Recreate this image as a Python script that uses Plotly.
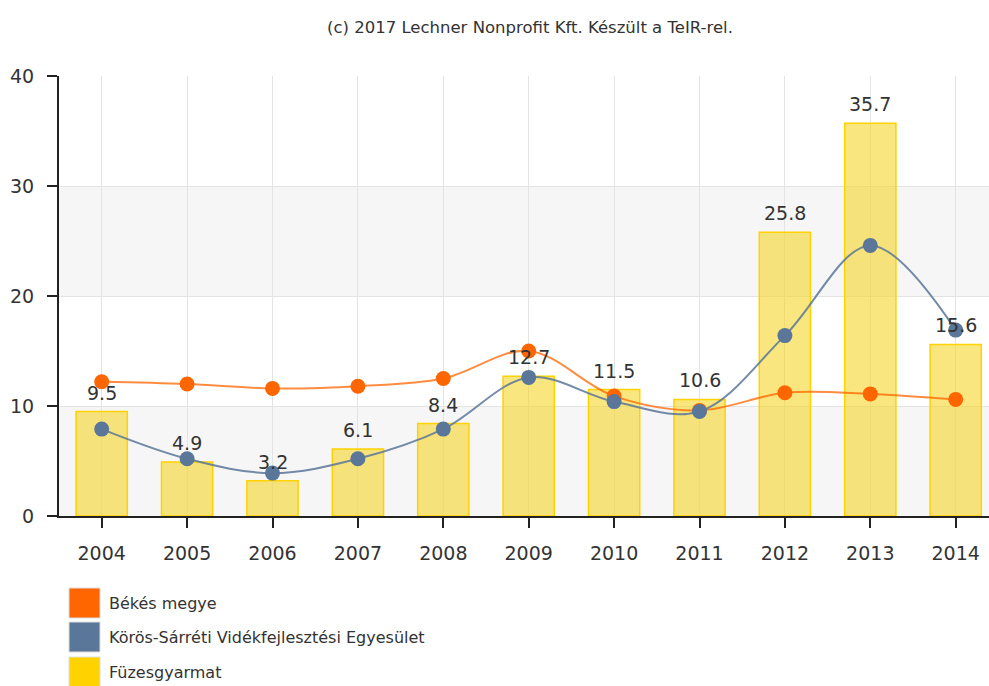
import plotly.graph_objects as go

# Years and series
years = ["2004", "2005", "2006", "2007", "2008", "2009", "2010", "2011", "2012", "2013", "2014"]
bekes = [12.2, 12.0, 11.6, 11.8, 12.5, 15.0, 10.9, 9.6, 11.2, 11.1, 10.6]
koros = [7.9, 5.2, 3.9, 5.2, 7.9, 12.6, 10.4, 9.5, 16.4, 24.6, 16.9]
fuzes = [9.5, 4.9, 3.2, 6.1, 8.4, 12.7, 11.5, 10.6, 25.8, 35.7, 15.6]

names = ["Békés megye", "Körös-Sárréti Vidékfejlesztési Egyesület", "Füzesgyarmat"]
colors = ["#ff6600", "#5a7699", "#ffd200"]
y_ticks = [0, 10, 20, 30, 40]
title_text = "(c) 2017 Lechner Nonprofit Kft. Készült a TeIR-rel."

FONT = "DejaVu Sans"
x_idx = list(range(len(years)))

fig = go.Figure()

fig.add_trace(go.Bar(
    x=x_idx, y=fuzes, name=names[2], width=0.6,
    marker=dict(color="rgba(247,214,40,0.6)", line=dict(color="#ffd200", width=1.5)),
    showlegend=False, hoverinfo="y",
))

fig.add_trace(go.Scatter(
    x=x_idx, y=bekes, name=names[0], mode="lines+markers",
    line=dict(color="rgba(255,102,0,0.75)", width=2, shape="spline", smoothing=1),
    marker=dict(color=colors[0], size=15),
    showlegend=False,
))
fig.add_trace(go.Scatter(
    x=x_idx, y=koros, name=names[1], mode="lines+markers",
    line=dict(color="rgba(90,118,153,0.85)", width=2, shape="spline", smoothing=1),
    marker=dict(color=colors[1], size=15),
    showlegend=False,
))

# Value labels above the bars
for i, v in enumerate(fuzes):
    fig.add_annotation(x=i, y=v, text=f"{v:.1f}", showarrow=False,
                       yanchor="bottom", yshift=6,
                       font=dict(family=FONT, size=19, color="#333333"))

# Alternating horizontal bands
for lo, hi in [(0, 10), (20, 30)]:
    fig.add_shape(type="rect", xref="paper", yref="y", x0=0, x1=1, y0=lo, y1=hi,
                  fillcolor="#f6f6f6", line=dict(width=0), layer="below")

# Legend drawn below the plot
legend_y = [603, 637, 672]
for name, col, yy in zip(names, colors, legend_y):
    fig.add_shape(type="rect", xref="paper", yref="paper",
                  x0=(69 - 59) / 930, x1=(100 - 59) / 930,
                  y0=(516 - (yy + 15)) / 440, y1=(516 - (yy - 15)) / 440,
                  fillcolor=col, line=dict(color="#dddddd", width=1))
    fig.add_annotation(xref="paper", yref="paper", x=(107 - 59) / 930,
                       y=(516 - yy) / 440, text=name, showarrow=False,
                       xanchor="left", yanchor="middle",
                       font=dict(family=FONT, size=16, color="#333333"))

fig.add_annotation(xref="paper", yref="paper", x=(530 - 59) / 930, y=(516 - 27) / 440,
                   text=title_text, showarrow=False, xanchor="center", yanchor="middle",
                   font=dict(family=FONT, size=16.5, color="#333333"))

fig.update_layout(
    width=989, height=686,
    margin=dict(l=59, r=0, t=76, b=170),
    paper_bgcolor="white", plot_bgcolor="white",
    font=dict(family=FONT, color="#333333"),
    bargap=0.4,
    xaxis=dict(
        range=[-0.5, 10.39], tickmode="array", tickvals=x_idx, ticktext=years,
        showgrid=True, gridcolor="#e4e4e4", gridwidth=1,
        showline=True, linecolor="#222222", linewidth=2,
        ticks="outside", ticklen=10, tickcolor="#222222", tickwidth=2,
        tickfont=dict(family=FONT, size=19, color="#333333"),
        ticklabelstandoff=9, zeroline=False, fixedrange=True,
    ),
    yaxis=dict(
        range=[0, 40], tickmode="array", tickvals=y_ticks,
        showgrid=True, gridcolor="#e4e4e4", gridwidth=1,
        showline=True, linecolor="#222222", linewidth=2,
        ticks="outside", ticklen=10, tickcolor="#222222", tickwidth=2,
        tickfont=dict(family=FONT, size=19, color="#333333"),
        ticklabelstandoff=9, zeroline=False, fixedrange=True,
    ),
)

fig.write_html("out.html")
